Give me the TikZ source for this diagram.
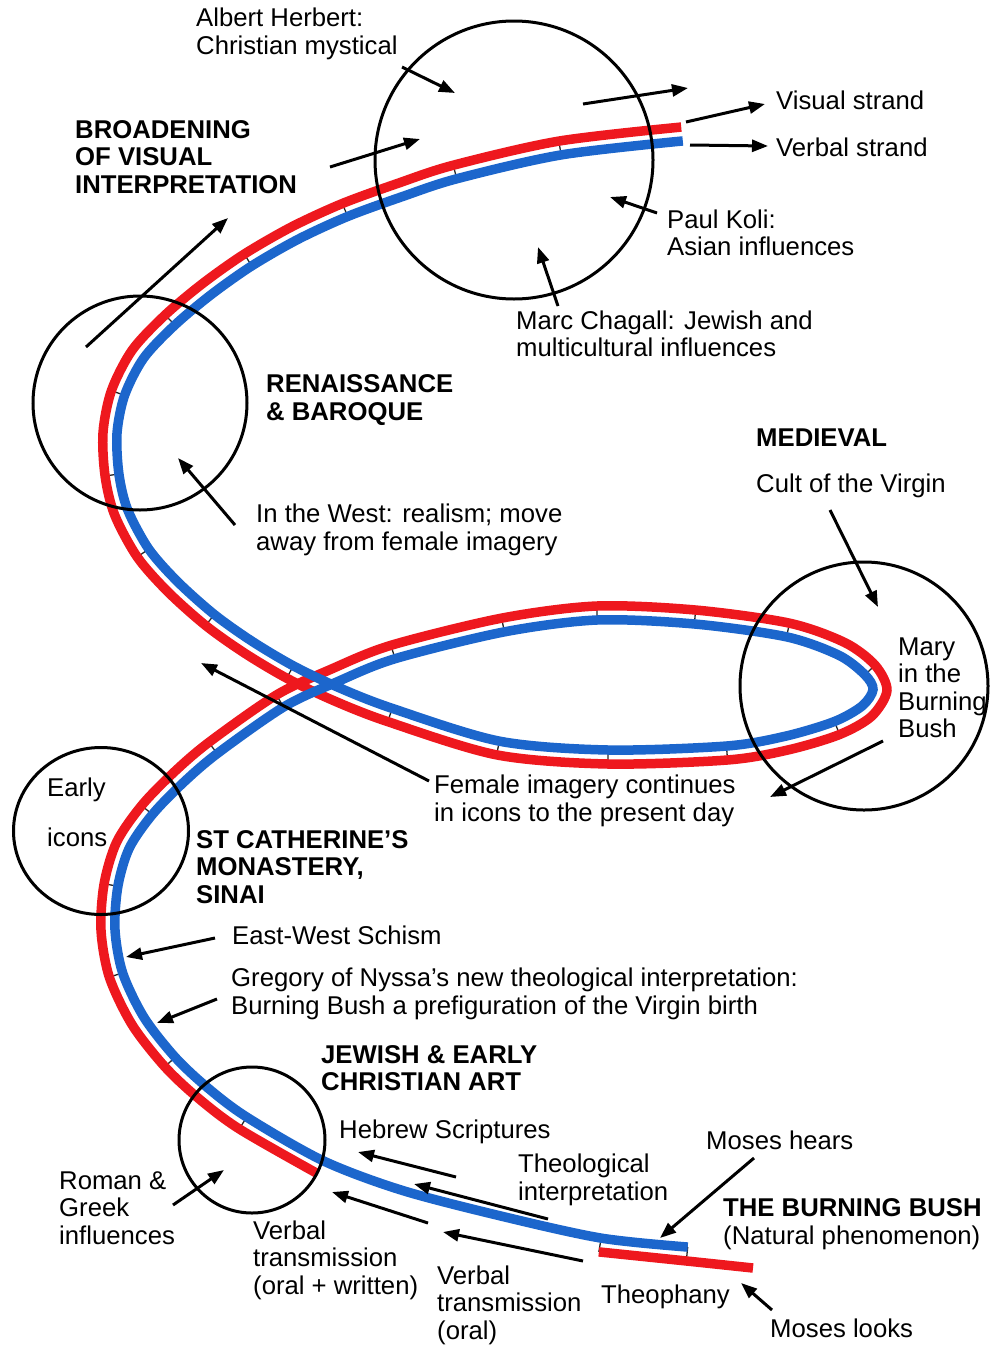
\documentclass[tikz,border=0pt]{standalone}
\usepackage{fontspec}
\setmainfont{Liberation Sans}
\usetikzlibrary{arrows.meta,calc,shapes.geometric}

\definecolor{strandred}{RGB}{238,24,30}
\definecolor{strandblue}{RGB}{28,102,204}

\begin{document}
\begin{tikzpicture}[x=1pt,y=-1pt,
    txt/.style={anchor=west,align=left,inner sep=0pt,font=\fontsize{25.7}{27.5}\selectfont},
    heading/.style={txt,font=\fontsize{25.7}{27.5}\selectfont\bfseries},
    ring/.style={draw,circle,line width=3pt,inner sep=0pt},
    pointer/.style={line width=3pt,-{Triangle[length=16pt,width=12pt]}},
    redstrand/.style={draw=strandred,line width=9.5pt},
    bluestrand/.style={draw=strandblue,line width=9.5pt},
    tick/.style={draw=black!85,line width=1.3pt}]

  \useasboundingbox (0,0) rectangle (992,1347);

  % centre line of the two strands, from the bush upwards
  \def\helixpts{687/1254,600/1245,500/1223,400/1197,320/1167,243/1123,203/1093,
    170/1062,138/1021,116/975,108/930,111/885,123/845,147/810,178/778,213/748,
    280/701,333/676,393/652,503/625,597/613,695/617,788/630,842/649,870/670,
    880/690,867/711,837/728,787/743,727/753,608/757,498/748,390/715,336/694,
    290/672,248/647,210/620,173/587,143/553,121/512,112/475,110/433,118/393,
    138/354,170/320,207/289,248/260,295/233,345/210,400/190,455/172,560/148,682/134}
  \foreach \x/\y [count=\i] in \helixpts {\coordinate (c\i) at (\x,\y);}
  \foreach \i in {1,...,53}{
    \pgfmathtruncatemacro\prv{max(\i-1,1)}
    \pgfmathtruncatemacro\nxt{min(\i+1,53)}
    \coordinate (t\i) at ($(c\i)+(c\nxt)-(c\prv)$);
    \coordinate (r\i) at ($(c\i)!7pt!90:(t\i)$);
    \coordinate (b\i) at ($(c\i)!7pt!-90:(t\i)$);
  }
  \coordinate (redtip) at (753,1268);

  \foreach \i in {1,2,6,8,10,12,14,16,17,19,20,21,22,23,25,28,30,31,32,33,35,37,39,41,43,45,47,49,51,52}
    \draw[tick] (r\i) -- (b\i);

  \def\redlist{}\def\bluelist{}
  \foreach \i in {1,...,53}{\xdef\bluelist{\bluelist(b\i)}}
  \foreach \i in {5,...,53}{\xdef\redlist{\redlist(r\i)}}

  \edef\strand{\noexpand\draw[redstrand] plot[smooth] coordinates {\redlist};}\strand
  \draw[redstrand] plot[smooth] coordinates {(r2) (r1) (redtip)};
  \edef\strand{\noexpand\draw[bluestrand] plot[smooth] coordinates {\bluelist};}\strand

  \node[ring,minimum size=278pt]                        (modern)      at (514,160)  {};
  \node[ring,minimum size=214pt]                        (renaissance) at (140,403)  {};
  \node[ring,minimum size=248pt]                        (medieval)    at (864,686)  {};
  \node[ring,ellipse,minimum width=175pt,minimum height=167pt] (sinai) at (101,831) {};
  \node[ring,minimum size=146pt]                        (jewish)      at (252,1140) {};

  \node[txt]     (herbert)  at (196,34)   {Albert Herbert:\\Christian mystical};
  \node[heading] (broad)    at (75,157)   {BROADENING\\OF VISUAL\\INTERPRETATION};
  \node[txt]     (visual)   at (776,100)  {Visual strand};
  \node[txt]     (verbal)   at (776,147)  {Verbal strand};
  \node[txt]     (koli)     at (667,233)  {Paul Koli:\\Asian influences};
  \node[txt]     (chagall)  at (516,334)  {Marc Chagall: Jewish and\\multicultural influences};
  \node[heading] (renbar)   at (266,400)  {RENAISSANCE\\\& BAROQUE};
  \node[heading] (medtitle) at (756,438)  {MEDIEVAL};
  \node[txt]     (cult)     at (756,486)  {Cult of the Virgin};
  \node[txt]     (west)     at (256,530)  {In the West: realism; move\\away from female imagery};
  \node[txt]     (mary)     at (898,688)  {Mary\\in the\\Burning\\Bush};
  \node[txt]     (female)   at (434,801)  {Female imagery continues\\in icons to the present day};
  \node[txt]     (early)    at (47,790)   {Early};
  \node[txt]     (icons)    at (47,837)   {icons};
  \node[heading] (cath)     at (196,867)  {ST CATHERINE’S\\MONASTERY,\\SINAI};
  \node[txt]     (schism)   at (232,935)  {East-West Schism};
  \node[txt]     (gregory)  at (231,994)  {Gregory of Nyssa’s new theological interpretation:\\Burning Bush a prefiguration of the Virgin birth};
  \node[heading] (jewart)   at (321,1068) {JEWISH \& EARLY\\CHRISTIAN ART};
  \node[txt]     (hebrew)   at (339,1132) {Hebrew Scriptures};
  \node[txt]     (hears)    at (706,1140) {Moses hears};
  \node[txt]     (theol)    at (518,1180) {Theological\\interpretation};
  \node[txt]     (roman)    at (59,1208)  {Roman \&\\Greek\\influences};
  \node[txt]     (bush)     at (723,1224) {\textbf{THE BURNING BUSH}\\(Natural phenomenon)};
  \node[txt]     (vtow)     at (253,1260) {Verbal\\transmission\\(oral + written)};
  \node[txt]     (vto)      at (437,1305) {Verbal\\transmission\\(oral)};
  \node[txt]     (theoph)   at (601,1297) {Theophany};
  \node[txt]     (looks)    at (770,1328) {Moses looks};

  % arrow ends
  \coordinate (herbert-a) at (402,67);   \coordinate (herbert-b) at (455,93);
  \coordinate (inner-a)   at (330,167);  \coordinate (inner-b)   at (420,139);
  \coordinate (upper-a)   at (583,104);  \coordinate (upper-b)   at (688,88);
  \coordinate (visual-a)  at (686,122);  \coordinate (visual-b)  at (765,104);
  \coordinate (verbal-a)  at (690,145);  \coordinate (verbal-b)  at (768,146);
  \coordinate (koli-a)    at (657,213);  \coordinate (koli-b)    at (610,197);
  \coordinate (chagall-a) at (558,306);  \coordinate (chagall-b) at (538,247);
  \coordinate (broad-a)   at (86,347);   \coordinate (broad-b)   at (228,218);
  \coordinate (west-a)    at (235,525);  \coordinate (west-b)    at (178,458);
  \coordinate (cult-a)    at (830,510);  \coordinate (cult-b)    at (878,607);
  \coordinate (mary-a)    at (883,741);  \coordinate (mary-b)    at (770,797);
  \coordinate (female-a)  at (429,781);  \coordinate (female-b)  at (201,663);
  \coordinate (schism-a)  at (215,938);  \coordinate (schism-b)  at (126,957);
  \coordinate (gregory-a) at (217,999);  \coordinate (gregory-b) at (157,1023);
  \coordinate (roman-a)   at (173,1205); \coordinate (roman-b)   at (224,1170);
  \coordinate (hebrew-a)  at (456,1177); \coordinate (hebrew-b)  at (358,1152);
  \coordinate (theol-a)   at (548,1219); \coordinate (theol-b)   at (414,1184);
  \coordinate (vtow-a)    at (428,1223); \coordinate (vtow-b)    at (332,1192);
  \coordinate (vto-a)     at (583,1261); \coordinate (vto-b)     at (443,1232);
  \coordinate (hears-a)   at (754,1158); \coordinate (hears-b)   at (660,1238);
  \coordinate (looks-a)   at (772,1310); \coordinate (looks-b)   at (741,1283);

  \path[pointer]
    (herbert-a) edge (herbert-b)
    (inner-a)   edge (inner-b)
    (upper-a)   edge (upper-b)
    (visual-a)  edge (visual-b)
    (verbal-a)  edge (verbal-b)
    (koli-a)    edge (koli-b)
    (chagall-a) edge (chagall-b)
    (broad-a)   edge (broad-b)
    (west-a)    edge (west-b)
    (cult-a)    edge (cult-b)
    (mary-a)    edge (mary-b)
    (female-a)  edge (female-b)
    (schism-a)  edge (schism-b)
    (gregory-a) edge (gregory-b)
    (roman-a)   edge (roman-b)
    (hebrew-a)  edge (hebrew-b)
    (theol-a)   edge (theol-b)
    (vtow-a)    edge (vtow-b)
    (vto-a)     edge (vto-b)
    (hears-a)   edge (hears-b)
    (looks-a)   edge (looks-b)
  ;
\end{tikzpicture}
\end{document}
